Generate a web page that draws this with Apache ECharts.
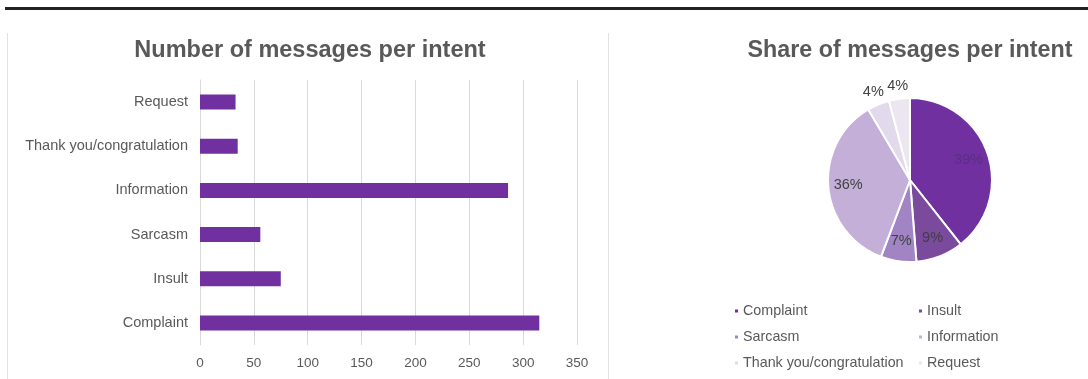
<!DOCTYPE html>
<html>
<head>
<meta charset="utf-8">
<script src="https://cdn.jsdelivr.net/npm/echarts@6/dist/echarts.min.js"></script>
<style>
html,body{margin:0;padding:0;background:#fff;}
#c{width:1088px;height:379px;}
</style>
</head>
<body>
<div id="c"></div>
<script>
// Data (bottom to top order for the bar chart)
const categories = ['Complaint', 'Insult', 'Sarcasm', 'Information', 'Thank you/congratulation', 'Request'];
const counts = [315, 75, 56, 286, 35, 33];
const xTicks = [0, 50, 100, 150, 200, 250, 300, 350];
const pieColors = ['#7030a0', '#7a4a9c', '#a084c4', '#c4afd9', '#e2d9ec', '#ece6f1'];
const outsideLabelNames = ['Thank you/congratulation', 'Request'];

const FONT = '"Liberation Sans", Arial, sans-serif';
const TXT = '#595959';
const PIE_C = [910, 180];
const PIE_R = 82;

const chart = echarts.init(document.getElementById('c'), null, {renderer: 'canvas'});

const pct = p => Math.round(p.percent) + '%';

const visibleData = categories.map((n, i) => ({name: n, value: counts[i], itemStyle: {color: pieColors[i]}}));
// invisible helper rings that only carry the percentage labels
const innerLabelData = categories.map((n, i) => {
  const d = {name: n, value: counts[i]};
  if (outsideLabelNames.includes(n)) d.label = {show: false};
  if (n === 'Complaint') d.label = {color: '#5a2f82'};
  return d;
});
const outerLabelData = categories.map((n, i) => {
  const d = {name: n, value: counts[i]};
  if (!outsideLabelNames.includes(n)) d.label = {show: false};
  return d;
});

const labelSeries = (radius, data) => ({
  type: 'pie', center: PIE_C, radius: [0, radius], startAngle: 90, clockwise: true,
  data: data, silent: true, legendHoverLink: false, avoidLabelOverlap: false,
  itemStyle: {color: 'rgba(0,0,0,0)', borderWidth: 0},
  label: {show: true, position: 'inside', formatter: pct, color: '#404040', fontSize: 14.5, fontFamily: FONT},
  labelLine: {show: false}
});

chart.setOption({
  animation: false,
  textStyle: {fontFamily: FONT},
  title: [
    {text: 'Number of messages per intent', left: 305, top: 34, textAlign: 'center',
     textStyle: {fontSize: 23.5, fontWeight: 'bold', color: TXT, fontFamily: FONT}},
    {text: 'Share of messages per intent', left: 905, top: 34, textAlign: 'center',
     textStyle: {fontSize: 23.3, fontWeight: 'bold', color: TXT, fontFamily: FONT}}
  ],
  graphic: [
    {type: 'rect', shape: {x: 5, y: 7, width: 1083, height: 3}, style: {fill: '#222'}},
    {type: 'rect', shape: {x: 7, y: 33, width: 1, height: 346}, style: {fill: '#e2e2e2'}},
    {type: 'rect', shape: {x: 608, y: 33, width: 1, height: 346}, style: {fill: '#e2e2e2'}}
  ],
  grid: {left: 200, right: 511, top: 80, bottom: 34, containLabel: false},
  xAxis: {
    type: 'value', min: xTicks[0], max: xTicks[xTicks.length - 1], interval: 50,
    axisLine: {show: false}, axisTick: {show: false},
    splitLine: {lineStyle: {color: '#d9d9d9', width: 1}},
    axisLabel: {color: TXT, fontSize: 13.5, margin: 11, fontFamily: FONT}
  },
  yAxis: {
    type: 'category', data: categories,
    axisLine: {show: true, lineStyle: {color: '#d9d9d9'}}, axisTick: {show: false},
    axisLabel: {color: TXT, fontSize: 14.5, margin: 12, fontFamily: FONT}
  },
  legend: [
    {orient: 'vertical', left: 728, top: 299, itemWidth: 5, itemHeight: 5, itemGap: 12, icon: 'rect',
     data: ['Complaint', 'Sarcasm', 'Thank you/congratulation'],
     textStyle: {color: TXT, fontSize: 14.3, fontFamily: FONT, padding: [0, 0, 0, -1]}},
    {orient: 'vertical', left: 912, top: 299, itemWidth: 5, itemHeight: 5, itemGap: 12, icon: 'rect',
     data: ['Insult', 'Information', 'Request'],
     textStyle: {color: TXT, fontSize: 14.3, fontFamily: FONT, padding: [0, 0, 0, -1]}}
  ],
  series: [
    {type: 'bar', data: counts, barWidth: 15, itemStyle: {color: '#7030a0'}},
    {type: 'pie', center: PIE_C, radius: [0, PIE_R], startAngle: 90, clockwise: true,
     data: visibleData, silent: true,
     itemStyle: {borderColor: '#fff', borderWidth: 2},
     label: {show: false}, labelLine: {show: false}},
    labelSeries(118, innerLabelData),
    labelSeries(184, outerLabelData)
  ]
});
</script>
</body>
</html>
